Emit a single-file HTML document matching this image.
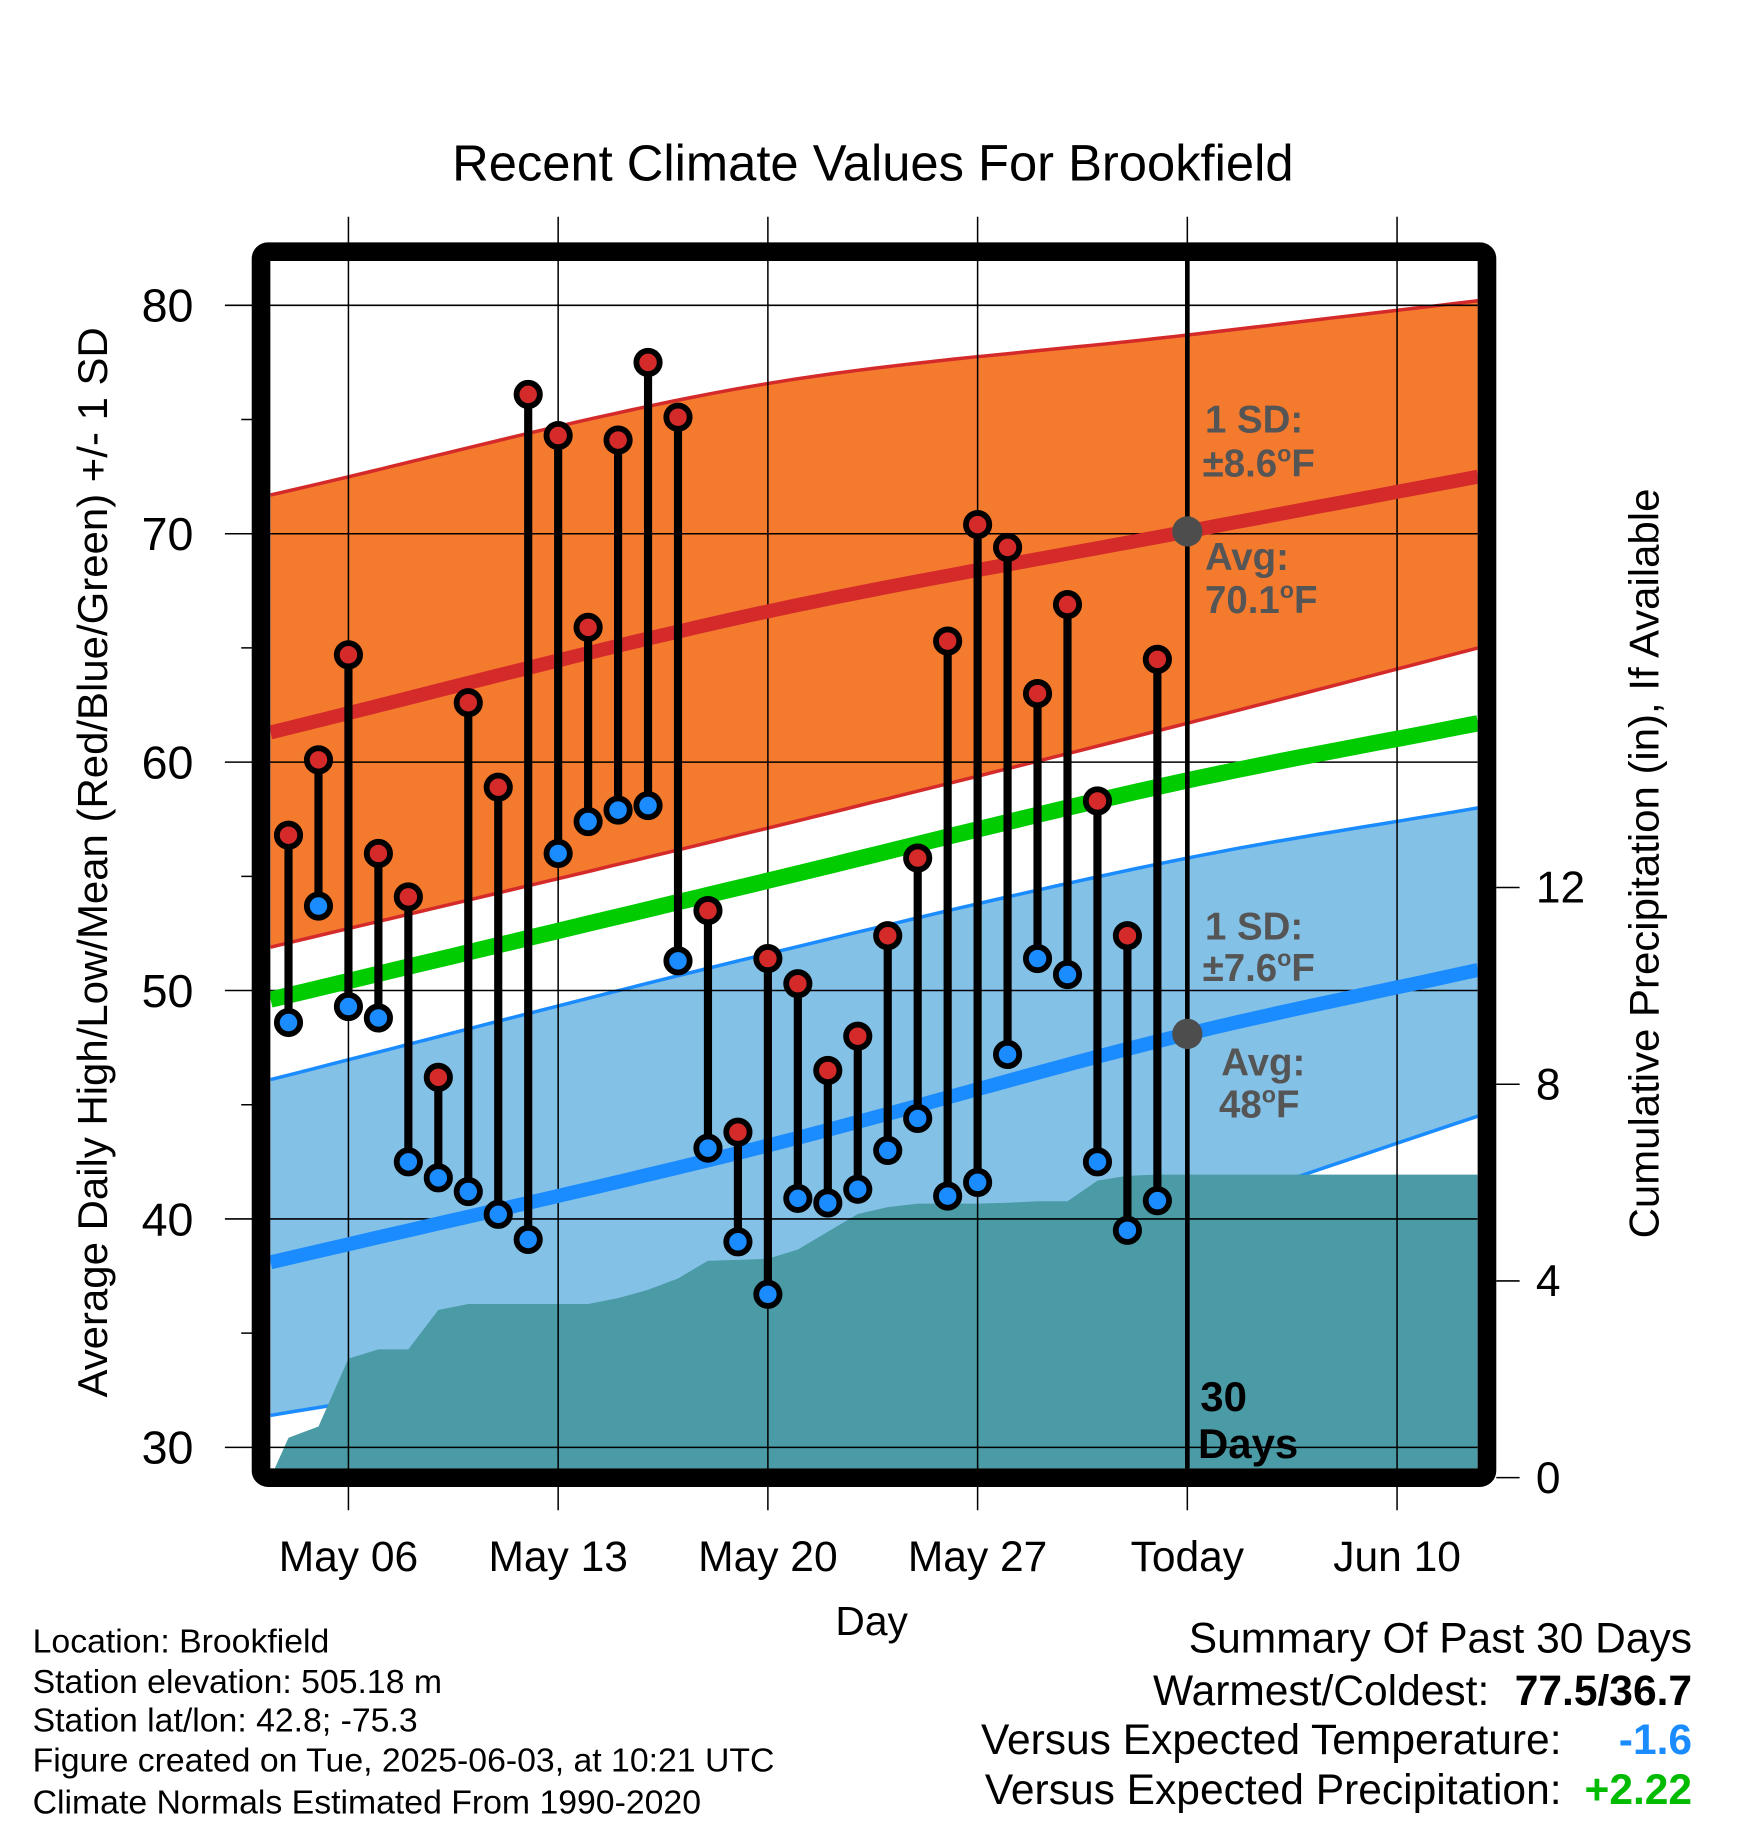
<!DOCTYPE html>
<html><head><meta charset="utf-8"><style>
html,body{margin:0;padding:0;background:#fff;}
svg{display:block;font-family:"Liberation Sans",Arial,sans-serif;}
</style></head><body>
<svg id="chart" width="1748" height="1828" viewBox="0 0 1500 1568.65" preserveAspectRatio="none" xmlns="http://www.w3.org/2000/svg">
<defs><clipPath id="plotclip"><rect x="232" y="224" width="1036" height="1036"/></clipPath></defs>
<rect x="0" y="0" width="1500" height="1568.65" fill="#fff"/>
<text x="749" y="155" font-size="43.5" text-anchor="middle">Recent Climate Values For Brookfield</text>
<g id="fills" clip-path="url(#plotclip)"></g>
<g id="grid"></g>
<g id="lines" clip-path="url(#plotclip)"></g>
<g id="marks"></g>
<rect x="224" y="216" width="1052" height="1052" rx="6" fill="none" stroke="#000" stroke-width="16"/>
<g id="axes"></g>
<g font-weight="bold" font-size="33" fill="#555">
<text x="1034" y="371">1 SD:</text>
<text x="1032" y="409">±8.6<tspan font-size="20" dy="-13">o</tspan><tspan dy="13">F</tspan></text>
<text x="1034" y="489">Avg:</text>
<text x="1034" y="526">70.1<tspan font-size="20" dy="-13">o</tspan><tspan dy="13">F</tspan></text>
<text x="1034" y="806">1 SD:</text>
<text x="1032" y="842">±7.6<tspan font-size="20" dy="-13">o</tspan><tspan dy="13">F</tspan></text>
<text x="1048" y="923">Avg:</text>
<text x="1046" y="959">48<tspan font-size="20" dy="-13">o</tspan><tspan dy="13">F</tspan></text>
<text x="1030" y="1211" fill="#000" font-size="36">30</text>
<text x="1028" y="1251" fill="#000" font-size="36">Days</text>
</g>
<text transform="translate(92,740) rotate(-90)" font-size="36" text-anchor="middle">Average Daily High/Low/Mean (Red/Blue/Green) +/- 1 SD</text>
<text transform="translate(1423,741) rotate(-90)" font-size="36" text-anchor="middle">Cumulative Precipitation (in), If Available</text>
<text x="748" y="1403" font-size="35" text-anchor="middle">Day</text>
<g font-size="29">
<text x="28" y="1418">Location: Brookfield</text>
<text x="28" y="1453">Station elevation: 505.18 m</text>
<text x="28" y="1486">Station lat/lon: 42.8; -75.3</text>
<text x="28" y="1520">Figure created on Tue, 2025-06-03, at 10:21 UTC</text>
<text x="28" y="1556">Climate Normals Estimated From 1990-2020</text>
</g>
<g font-size="36.5">
<text x="1452" y="1418" text-anchor="end">Summary Of Past 30 Days</text>
<text x="1278" y="1463" text-anchor="end">Warmest/Coldest:</text>
<text x="1452" y="1463" text-anchor="end" font-weight="bold">77.5/36.7</text>
<text x="1340" y="1505" text-anchor="end">Versus Expected Temperature:</text>
<text x="1452" y="1505" text-anchor="end" font-weight="bold" fill="#1a8cff">-1.6</text>
<text x="1340" y="1548" text-anchor="end">Versus Expected Precipitation:</text>
<text x="1452" y="1548" text-anchor="end" font-weight="bold" fill="#00bb00">+2.22</text>
</g>
</svg>
<script>
// Data (day index 0 = May 06)
const obsDays = [-2,-1,0,1,2,3,4,5,6,7,8,9,10,11,12,13,14,15,16,17,18,19,20,21,22,23,24,25,26,27];
const highs = [56.8,60.1,64.7,56.0,54.1,46.2,62.6,58.9,76.1,74.3,65.9,74.1,77.5,75.1,53.5,43.8,51.4,50.3,46.5,48.0,52.4,55.8,65.3,70.4,69.4,63.0,66.9,58.3,52.4,64.5];
const lows = [48.6,53.7,49.3,48.8,42.5,41.8,41.2,40.2,39.1,56.0,57.4,57.9,58.1,51.3,43.1,39.0,36.7,40.9,40.7,41.3,43.0,44.4,41.0,41.6,47.2,51.4,50.7,42.5,39.5,40.8];
const precip = [0.81,1.04,2.42,2.61,2.61,3.41,3.53,3.53,3.53,3.53,3.53,3.65,3.82,4.05,4.41,4.43,4.45,4.64,5.0,5.36,5.5,5.57,5.57,5.57,5.59,5.62,5.62,6.04,6.14,6.16];
const normDays = [-2.6,13.65,28,37.7];
const normHigh = [61.3,66.5,70.1,72.5];
const normHighUp = [71.7,76.5,78.7,80.2];
const normHighLo = [51.9,57.0,61.7,65.0];
const normMean = [49.6,54.7,59.2,61.7];
const normLow = [38.1,43.1,48.1,50.9];
const normLowUp = [46.1,51.5,55.8,58.0];
const normLowLo = [31.4,35.0,40.3,44.5];
const yTicks = [30,40,50,60,70,80];
const yMinor = [35,45,55,65,75];
const y2Ticks = [0,4,8,12];
const xTickDays = [0,7,14,21,28,35];
const xTickLabels = ["May 06","May 13","May 20","May 27","Today","Jun 10"];
const todayDay = 28;

const X = d => 299 + d*25.71;
const Y = v => 262 + (80 - v)*19.6;
const Y2 = p => 1268 - p*42.2;
const NS = "http://www.w3.org/2000/svg";
function mk(tag, attrs, parent){const e=document.createElementNS(NS,tag);for(const k in attrs)e.setAttribute(k,attrs[k]);parent.appendChild(e);return e;}
function interp(xs, ys, x){
  let i=0; while(i<xs.length-2 && x>xs[i+1]) i++;
  const x0=xs[i],x1=xs[i+1],y0=ys[i],y1=ys[i+1];
  const m=(k)=>{ if(k===0) return (ys[1]-ys[0])/(xs[1]-xs[0]); if(k===xs.length-1) return (ys[k]-ys[k-1])/(xs[k]-xs[k-1]); return ((ys[k+1]-ys[k])/(xs[k+1]-xs[k])+(ys[k]-ys[k-1])/(xs[k]-xs[k-1]))/2;};
  const h=x1-x0,t=(x-x0)/h;
  const h00=2*t*t*t-3*t*t+1,h10=t*t*t-2*t*t+t,h01=-2*t*t*t+3*t*t,h11=t*t*t-t*t;
  return h00*y0+h10*h*m(i)+h01*y1+h11*h*m(i+1);
}
function curvePts(vals){const pts=[];const a=normDays[0],b=normDays[normDays.length-1];for(let i=0;i<=60;i++){const d=a+(b-a)*i/60;pts.push([X(d),Y(interp(normDays,vals,d))]);}return pts;}
const ptsStr = p => p.map(q=>q[0].toFixed(1)+","+q[1].toFixed(1)).join(" ");

const fills=document.getElementById('fills'), grid=document.getElementById('grid'), lines=document.getElementById('lines'), marks=document.getElementById('marks'), axes=document.getElementById('axes');

function band(up, lo, color, edge, name){
  const u=curvePts(up), l=curvePts(lo).reverse();
  const p=mk('polygon',{points:ptsStr(u.concat(l)),fill:color},fills);
  
  
  const e1=mk('polyline',{points:ptsStr(curvePts(up)),fill:'none',stroke:edge,'stroke-width':3},fills);
  
  
  const e2=mk('polyline',{points:ptsStr(curvePts(lo)),fill:'none',stroke:edge,'stroke-width':3},fills);
  
  
}
band(normHighUp, normHighLo, '#f47a2e', '#d42a2a', 'high-sd-band');
band(normLowUp, normLowLo, '#84c1e6', '#1a8cff', 'low-sd-band');

{
  const pts=[[X(normDays[0]),Y2(0)]];
  obsDays.forEach((d,i)=>pts.push([X(d),Y2(precip[i])]));
  pts.push([1268,Y2(precip[precip.length-1])]);
  pts.push([1268,1268]);pts.push([X(normDays[0]),1268]);
  const p=mk('polygon',{points:ptsStr(pts),fill:'#4a9ba6'},fills);
  
  
}

yTicks.forEach(v=>{
  const l=mk('line',{x1:193,x2:1268,y1:Y(v),y2:Y(v),stroke:'#000','stroke-width':1.3},grid);
  
  
  const t=mk('text',{x:166,y:Y(v)+14,'font-size':40,'text-anchor':'end'},axes);
  t.textContent=v;
  
  
});
yMinor.forEach(v=>{
  const l=mk('line',{x1:207,x2:224,y1:Y(v),y2:Y(v),stroke:'#000','stroke-width':1.3},axes);
  
  
});
xTickDays.forEach((d,i)=>{
  const l=mk('line',{x1:X(d),x2:X(d),y1:186,y2:1296,stroke:'#000','stroke-width':1.3},grid);
  
  
  const t=mk('text',{x:X(d),y:1348,'font-size':36.5,'text-anchor':'middle'},axes);
  t.textContent=xTickLabels[i];
  
  
});
y2Ticks.forEach(p=>{
  const l=mk('line',{x1:1284,x2:1304,y1:Y2(p),y2:Y2(p),stroke:'#000','stroke-width':1.3},axes);
  
  
  const t=mk('text',{x:1318,y:Y2(p)+13,'font-size':38},axes);
  t.textContent=p;
  
  
});

function nline(vals,color,w,name){
  const l=mk('polyline',{points:ptsStr(curvePts(vals)),fill:'none',stroke:color,'stroke-width':w},lines);
  
  
}
nline(normHigh,'#d42a2a',12,'avg-high-line');
nline(normMean,'#00cc00',14,'avg-mean-line');
nline(normLow,'#1a8cff',12,'avg-low-line');

{
  const l=mk('line',{x1:X(todayDay),x2:X(todayDay),y1:224,y2:1262,stroke:'#000','stroke-width':4},lines);
  
  
  const c1=mk('circle',{cx:X(todayDay),cy:Y(interp(normDays,normHigh,todayDay)),r:13,fill:'#4d4d4d'},lines);
  
  
  const c2=mk('circle',{cx:X(todayDay),cy:Y(interp(normDays,normLow,todayDay)),r:13,fill:'#4d4d4d'},lines);
  
  
}

obsDays.forEach((d,i)=>{
  const x=X(d);
  const s=mk('line',{x1:x,x2:x,y1:Y(highs[i]),y2:Y(lows[i]),stroke:'#000','stroke-width':7},marks);
  
  
  const h=mk('circle',{cx:x,cy:Y(highs[i]),r:10,fill:'#d42a2a',stroke:'#000','stroke-width':5},marks);
  
  
  const lo=mk('circle',{cx:x,cy:Y(lows[i]),r:10,fill:'#1a8cff',stroke:'#000','stroke-width':5},marks);
  
  
});
</script>
</body></html>
